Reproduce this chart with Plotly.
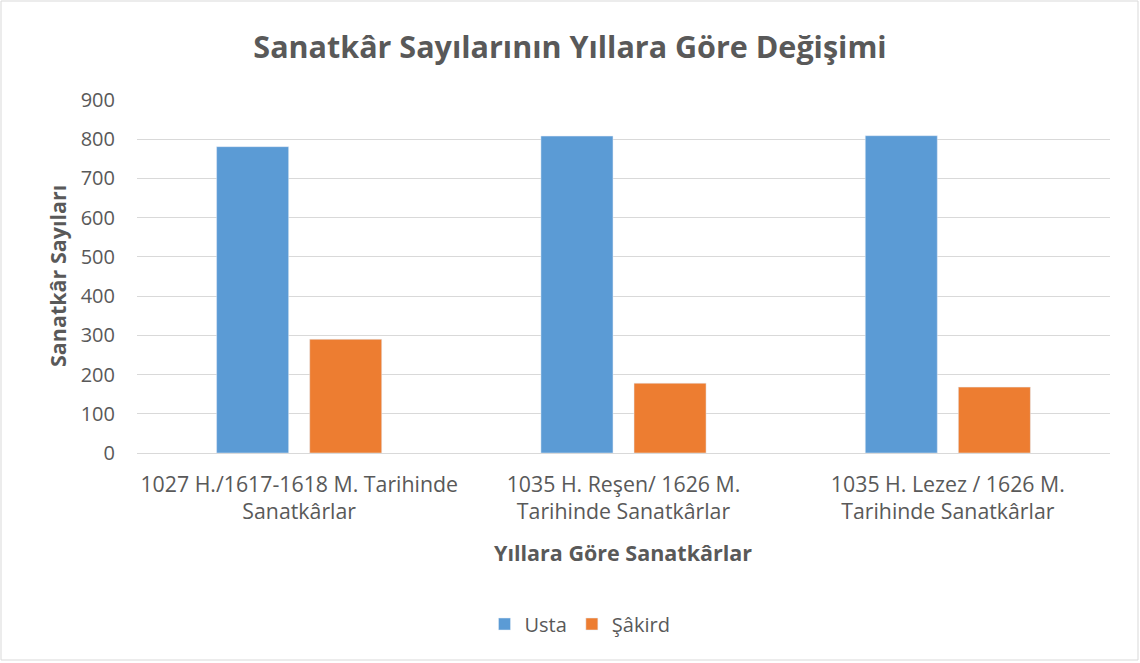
import plotly.graph_objects as go

categories = [
    "1027 H./1617-1618 M. Tarihinde<br>Sanatkârlar",
    "1035 H. Reşen/ 1626 M.<br>Tarihinde Sanatkârlar",
    "1035 H. Lezez / 1626 M.<br>Tarihinde Sanatkârlar",
]
usta = [781, 808, 809]
sakird = [290, 178, 168]
y_ticks = [0, 100, 200, 300, 400, 500, 600, 700, 800, 900]

FONT = "Open Sans"
GREY = "#595959"

fig = go.Figure()
fig.add_trace(go.Bar(x=categories, y=usta, name="Usta", marker_color="#5B9BD5"))
fig.add_trace(go.Bar(x=categories, y=sakird, name="Şâkird", marker_color="#ED7D31"))

W, H = 1140, 663
L, R, T, B = 137, 30, 100, 210
pw, ph = W - L - R, H - T - B

def px_x(px):
    return (px - L) / pw

def px_y(py):
    return (H - B - py) / ph

fig.update_layout(
    width=W, height=H,
    margin=dict(l=L, r=R, t=T, b=B),
    paper_bgcolor="white", plot_bgcolor="white",
    font=dict(family=FONT, color=GREY, size=20),
    title=dict(text="<b>Sanatkâr Sayılarının Yıllara Göre Değişimi</b>",
               x=0.5, xanchor="center", y=1 - 47 / H, yanchor="middle",
               font=dict(size=30.5, color=GREY, family=FONT)),
    barmode="group", bargap=0.426, bargroupgap=0.226,
    xaxis=dict(showline=True, linecolor="#d9d9d9", linewidth=1, ticks="",
               tickfont=dict(size=21.3, color=GREY), showgrid=False,
               ticklabelstandoff=12),
    yaxis=dict(range=[0, 900], tickvals=y_ticks, showgrid=True, gridcolor="#d9d9d9",
               gridwidth=1, zeroline=False, ticks="", tickfont=dict(size=20, color=GREY),
               ticklabelstandoff=21),
    legend=dict(orientation="h", x=px_x(580), xanchor="center", y=px_y(624), yanchor="middle",
                font=dict(size=20, color=GREY), itemwidth=30, traceorder="normal"),
    showlegend=True,
)

fig.add_annotation(text="<b>Sanatkâr Sayıları</b>", xref="paper", yref="paper",
                   x=px_x(57), y=px_y(276), xanchor="center", yanchor="middle",
                   textangle=-90, showarrow=False,
                   font=dict(size=21.5, color=GREY, family=FONT))
fig.add_annotation(text="<b>Yıllara Göre Sanatkârlar</b>", xref="paper", yref="paper",
                   x=px_x(623), y=px_y(552), xanchor="center", yanchor="middle",
                   showarrow=False,
                   font=dict(size=21.5, color=GREY, family=FONT))

fig.add_shape(type="rect", xref="paper", yref="paper",
              x0=px_x(1), x1=px_x(1138), y0=px_y(660), y1=px_y(1),
              line=dict(color="#d9d9d9", width=1), fillcolor="rgba(0,0,0,0)", layer="below")

fig.write_html("out.html", config={"displayModeBar": False},
               post_script="document.body.style.margin='0';document.body.style.overflow='hidden';")
